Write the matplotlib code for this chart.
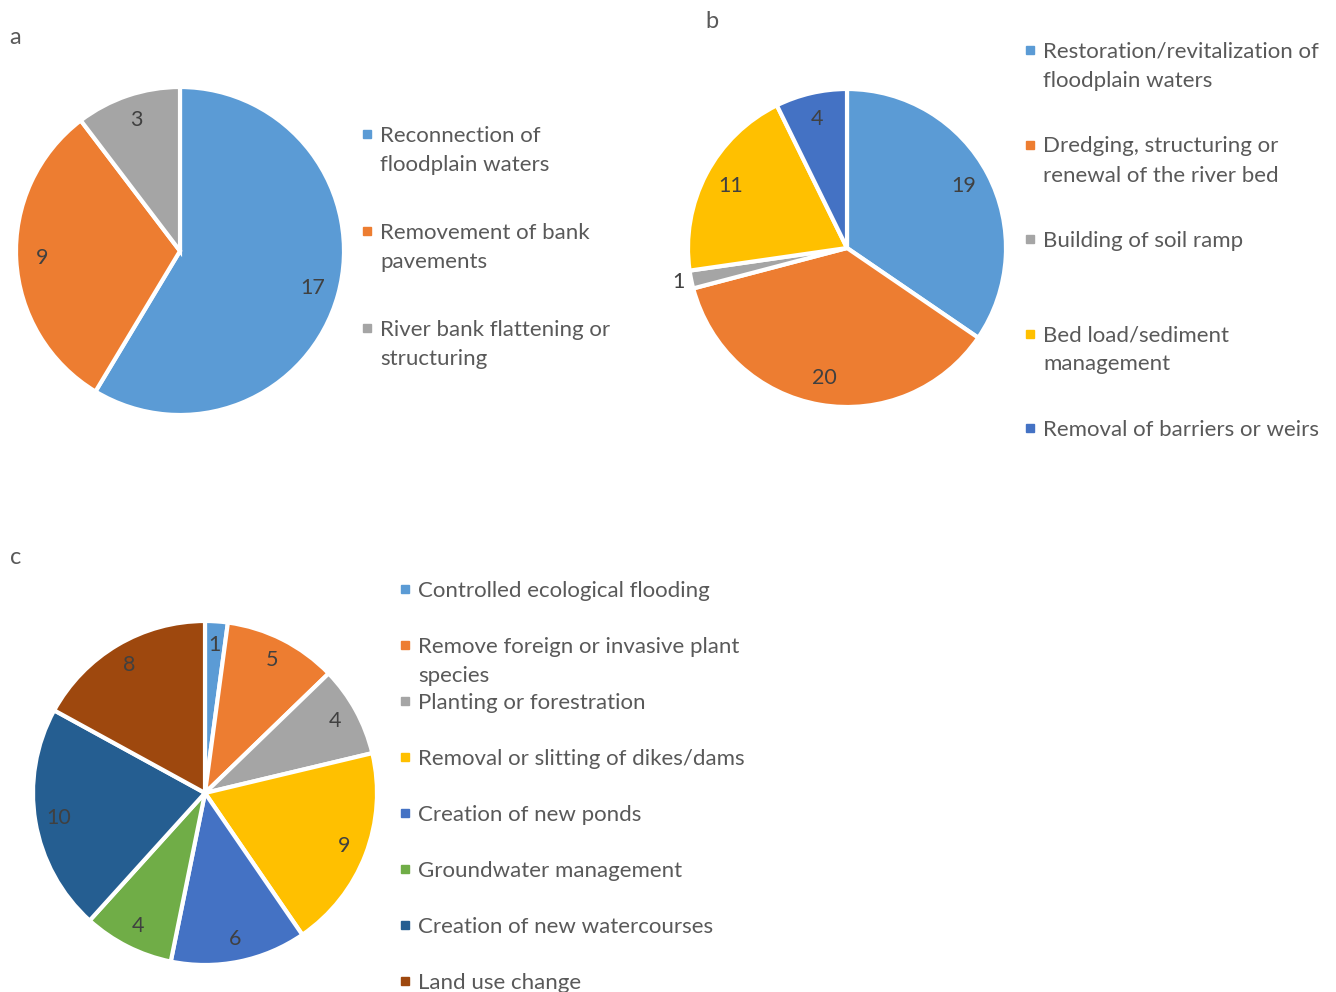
import numpy as np
import matplotlib
matplotlib.use("Agg")
import matplotlib.pyplot as plt
from matplotlib.patches import Rectangle

plt.rcParams["font.family"] = ["Lato", "DejaVu Sans"]

W, H = 1336, 992
TEXT = "#595959"
LABEL = "#404040"
FS = 16

# panel a
a_labels = ["Reconnection of\nfloodplain waters",
            "Removement of bank\npavements",
            "River bank flattening or\nstructuring"]
a_values = [17, 9, 3]
a_colors = ["#5B9BD5", "#ED7D31", "#A5A5A5"]

# panel b
b_labels = ["Restoration/revitalization of\nfloodplain waters",
            "Dredging, structuring or\nrenewal of the river bed",
            "Building of soil ramp",
            "Bed load/sediment\nmanagement",
            "Removal of barriers or weirs"]
b_values = [19, 20, 1, 11, 4]
b_colors = ["#5B9BD5", "#ED7D31", "#A5A5A5", "#FFC000", "#4472C4"]

# panel c
c_labels = ["Controlled ecological flooding",
            "Remove foreign or invasive plant\nspecies",
            "Planting or forestration",
            "Removal or slitting of dikes/dams",
            "Creation of new ponds",
            "Groundwater management",
            "Creation of new watercourses",
            "Land use change"]
c_values = [1, 5, 4, 9, 6, 4, 10, 8]
c_colors = ["#5B9BD5", "#ED7D31", "#A5A5A5", "#FFC000", "#4472C4",
            "#70AD47", "#255E91", "#9E480E"]


def fx(x):
    return x / W


def fy(y):
    return 1 - y / H


def pie_panel(fig, cx, cy, r, values, colors, lab_dist, outside=None):
    ax = fig.add_axes([fx(cx - r), fy(cy + r), 2 * r / W, 2 * r / H])
    wedges, _ = ax.pie(values, colors=colors, startangle=90, counterclock=False,
                       radius=1, wedgeprops=dict(edgecolor="white", linewidth=3))
    ax.set_xlim(-1, 1)
    ax.set_ylim(-1, 1)
    ax.axis("off")
    outside = outside or {}
    for i, (w, v) in enumerate(zip(wedges, values)):
        ang = np.deg2rad((w.theta1 + w.theta2) / 2)
        d = outside.get(i, lab_dist)
        ax.text(d * np.cos(ang), d * np.sin(ang), str(v), ha="center",
                va="center", fontsize=FS - 0.5, color=LABEL)
    return ax


def legend(fig, x, y0, step, labels, colors, line=29):
    for i, (lab, col) in enumerate(zip(labels, colors)):
        y = y0 + i * step
        fig.patches.append(Rectangle((fx(x - 13 - 4), fy(y + 4)), 8 / W, 8 / H,
                                     transform=fig.transFigure, color=col))
        for k, txt in enumerate(lab.split("\n")):
            fig.text(fx(x), fy(y + 2 + k * line), txt, ha="left", va="center",
                     fontsize=FS, color=TEXT)


fig = plt.figure(figsize=(W / 100, H / 100), dpi=100)

pie_panel(fig, 180, 251, 164, a_values, a_colors, 0.84)
legend(fig, 380, 134, 97, a_labels, a_colors)

pie_panel(fig, 847, 248, 159, b_values, b_colors, 0.83, outside={2: 1.08})
legend(fig, 1043, 50, 94.5, b_labels, b_colors)

pie_panel(fig, 205, 793, 172, c_values, c_colors, 0.865)
legend(fig, 418, 589, 56, c_labels, c_colors)

fig.text(fx(15), fy(38), "a", ha="center", va="center", fontsize=FS + 1, color=TEXT)
fig.text(fx(712), fy(21), "b", ha="center", va="center", fontsize=FS + 1, color=TEXT)
fig.text(fx(16), fy(557), "c", ha="center", va="center", fontsize=FS + 1, color=TEXT)

fig.savefig("out.png", dpi=100)
